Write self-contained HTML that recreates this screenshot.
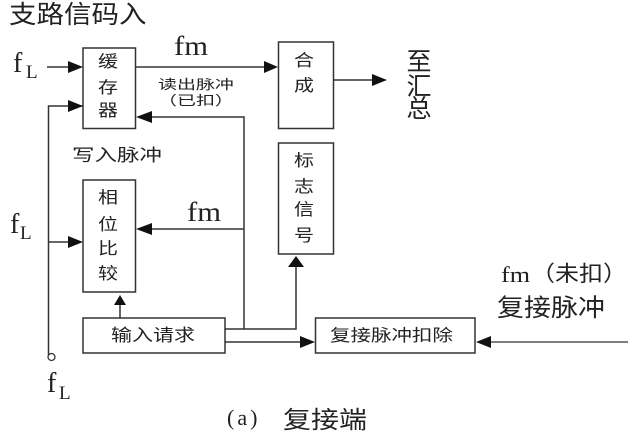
<!DOCTYPE html>
<html><head><meta charset="utf-8">
<style>
html,body{margin:0;padding:0;background:#fff;width:636px;height:441px;overflow:hidden}
svg{display:block}
text{font-family:"Liberation Sans","Noto Sans CJK SC",sans-serif;fill:#222}
text.s{font-family:"Liberation Serif",serif}
</style></head><body>
<svg width="636" height="441" viewBox="0 0 636 441" xmlns="http://www.w3.org/2000/svg">
<g fill="none" stroke="#333" stroke-width="1.5">
<rect x="83" y="48" width="52.5" height="80.5"/>
<rect x="83" y="180" width="52.5" height="112"/>
<rect x="278.500" y="42" width="55" height="86.500"/>
<rect x="278.500" y="143" width="55" height="111"/>
<rect x="83" y="318" width="142" height="35"/>
<rect x="315.500" y="318" width="159.500" height="35"/>
<path d="M47 67H70M136 67H266M334 80H375"/>
<path d="M83 106H48.500V355M48.500 242H70"/>
<path d="M150 117H244V329M150 229H244"/>
<path d="M120 318V300M225 329H296V266M225 342H302"/>
<path d="M628 342H490" stroke-width="1.2"/>
<circle cx="51.500" cy="357" r="3.500" stroke-width="1.3"/>
</g>
<g fill="#111">
<path d="M83 67L68 61V73Z"/>
<path d="M83 106L68 100V112Z"/>
<path d="M83 242L68 236V248Z"/>
<path d="M278 67L264 61V73Z"/>
<path d="M387 80L372 74V86Z"/>
<path d="M136 117L152 111V123Z"/>
<path d="M136 229L152 223V235Z"/>
<path d="M120 295L114 305H126Z"/>
<path d="M296 256L288 267H304Z"/>
<path d="M315 342L300 336V348Z"/>
<path d="M476 342L491 336V348Z"/>
</g>
<text transform="translate(9,23) scale(1,.9)" font-size="27.500">支路信码入</text>
<text class="s" x="174" y="55" font-size="27" textLength="34" lengthAdjust="spacingAndGlyphs">fm</text>
<text class="s" x="187" y="221" font-size="27" textLength="34" lengthAdjust="spacingAndGlyphs">fm</text>
<text class="s" x="13" y="72" font-size="28">f</text>
<text class="s" x="26" y="78" font-size="19">L</text>
<text class="s" x="10" y="233" font-size="28">f</text>
<text class="s" x="20" y="239" font-size="19">L</text>
<text class="s" x="47" y="392" font-size="28">f</text>
<text class="s" x="59" y="399" font-size="19">L</text>
<text class="s" x="501" y="282" font-size="22" textLength="29" lengthAdjust="spacingAndGlyphs">fm</text>
<g font-size="20" text-anchor="middle">
<text transform="translate(108,67) scale(1,.82)">缓</text>
<text transform="translate(108,93) scale(1,.82)">存</text>
<text transform="translate(108,116) scale(1,.82)">器</text>
<text transform="translate(108,203) scale(1,.82)">相</text>
<text transform="translate(108,230) scale(1,.82)">位</text>
<text transform="translate(108,254) scale(1,.82)">比</text>
<text transform="translate(108,279) scale(1,.82)">较</text>
<text transform="translate(304,66) scale(1,.82)">合</text>
<text transform="translate(304,91) scale(1,.82)">成</text>
<text transform="translate(304,166) scale(1,.82)">标</text>
<text transform="translate(304,192) scale(1,.82)">志</text>
<text transform="translate(304,215) scale(1,.82)">信</text>
<text transform="translate(304,241) scale(1,.82)">号</text>
</g>
<g font-size="25" text-anchor="middle">
<text x="419" y="70">至</text><text x="419" y="95">汇</text><text x="419" y="117">总</text>
</g>
<text transform="translate(158,89) scale(1,.7)" font-size="19">读出脉冲</text>
<text transform="translate(158,105) scale(1,.7)" font-size="19">（已扣）</text>
<text transform="translate(72,161) scale(1,.75)" font-size="22.500">写入脉冲</text>
<text transform="translate(111,341) scale(1,.8)" font-size="21">输入请求</text>
<text transform="translate(330,341) scale(1,.8)" font-size="20.500">复接脉冲扣除</text>
<text transform="translate(531,281) scale(1,.9)" font-size="24">（未扣）</text>
<text transform="translate(497,316) scale(1,.9)" font-size="27">复接脉冲</text>
<text class="s" x="227" y="425" font-size="22" letter-spacing="3">(a)</text>
<text transform="translate(283,428) scale(1,.85)" font-size="28">复接端</text>
</svg>
</body></html>
